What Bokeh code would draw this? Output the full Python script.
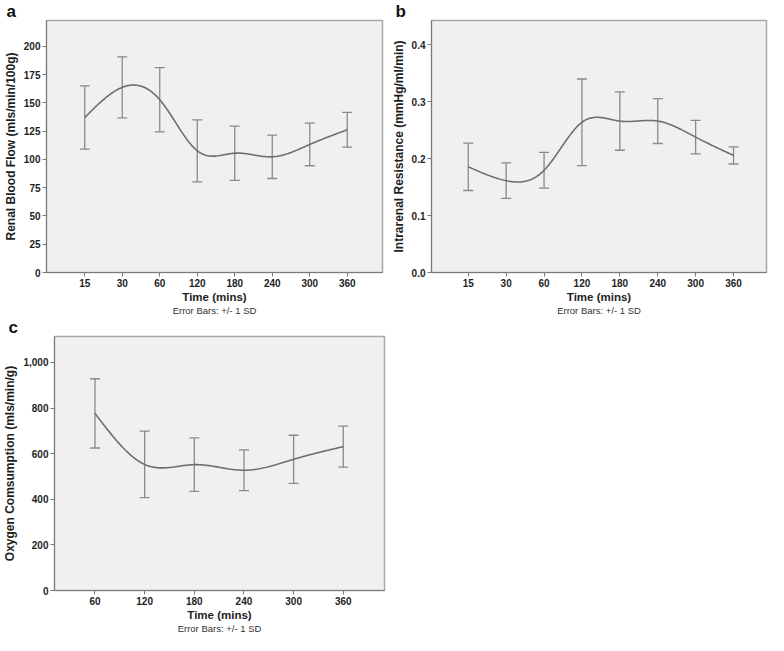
import numpy as np
from bokeh.plotting import figure
from bokeh.models import (ColumnDataSource, Whisker, TeeHead, Range1d, FixedTicker,
                          NumeralTickFormatter, Title)
from bokeh.layouts import column, row
from bokeh.embed import file_html
from bokeh.resources import INLINE

# ---------------- data ----------------
time_ab = ["15", "30", "60", "120", "180", "240", "300", "360"]
rbf_mean = [137.0, 163.7, 152.8, 107.6, 105.5, 102.3, 113.2, 126.2]
rbf_sd = [28.0, 27.0, 28.4, 27.4, 24.0, 19.2, 18.8, 15.4]

res_mean = [0.1856, 0.1613, 0.1795, 0.2638, 0.2659, 0.2659, 0.2377, 0.2056]
res_sd = [0.0416, 0.0313, 0.0315, 0.0760, 0.0512, 0.0394, 0.0294, 0.0151]

time_c = ["60", "120", "180", "240", "300", "360"]
o2_mean = [776.8, 553.0, 552.0, 527.5, 575.5, 631.0]
o2_sd = [151.8, 146.0, 117.0, 89.5, 105.5, 89.5]

ticks_a = [0, 25, 50, 75, 100, 125, 150, 175, 200]
ticks_b = [0.0, 0.1, 0.2, 0.3, 0.4]
ticks_c = [0, 200, 400, 600, 800, 1000]

FONT = "Liberation Sans"
LINE_C = "#6e6e6e"
BAR_C = "#8a8a8a"


def natural_spline(xs, ys, per=40):
    x = np.asarray(xs, float)
    y = np.asarray(ys, float)
    n = len(x)
    h = np.diff(x)
    A = np.zeros((n, n))
    r = np.zeros(n)
    A[0, 0] = 1
    A[-1, -1] = 1
    for i in range(1, n - 1):
        A[i, i - 1] = h[i - 1]
        A[i, i] = 2 * (h[i - 1] + h[i])
        A[i, i + 1] = h[i]
        r[i] = 6 * ((y[i + 1] - y[i]) / h[i] - (y[i] - y[i - 1]) / h[i - 1])
    M = np.linalg.solve(A, r)
    xx, yy = [], []
    for i in range(n - 1):
        t = np.linspace(x[i], x[i + 1], per, endpoint=(i == n - 2))
        a = x[i + 1] - t
        b = t - x[i]
        s = (M[i] * a ** 3 / (6 * h[i]) + M[i + 1] * b ** 3 / (6 * h[i])
             + (y[i] / h[i] - M[i] * h[i] / 6) * a
             + (y[i + 1] / h[i] - M[i + 1] * h[i] / 6) * b)
        xx.extend(t.tolist())
        yy.extend(s.tolist())
    return xx, yy


def make_panel(letter, cats, means, sds, ylab, yend, yticks, yfmt, xr,
               width, height, bl, br, bt, bb, letter_dx):
    idx = list(range(len(cats)))
    p = figure(width=width, height=height,
               x_range=Range1d(*xr), y_range=Range1d(0, yend),
               output_backend="svg", toolbar_location=None,
               min_border_left=bl, min_border_right=br,
               min_border_top=bt, min_border_bottom=bb)
    p.background_fill_color = "#f0f0f0"
    p.border_fill_color = "white"
    p.outline_line_color = "#a8a8a8"
    p.outline_line_width = 1.5
    p.xgrid.visible = False
    p.ygrid.visible = False

    src = ColumnDataSource(dict(
        x=idx,
        lower=[m - s for m, s in zip(means, sds)],
        upper=[m + s for m, s in zip(means, sds)],
    ))
    w = Whisker(source=src, base="x", lower="lower", upper="upper",
                line_color=BAR_C, line_width=1.3,
                upper_head=TeeHead(size=10, line_color=BAR_C, line_width=1.3),
                lower_head=TeeHead(size=10, line_color=BAR_C, line_width=1.3))
    p.add_layout(w)

    xx, yy = natural_spline(idx, means)
    p.line(xx, yy, line_color=LINE_C, line_width=1.6)

    p.xaxis.ticker = FixedTicker(ticks=idx)
    p.xaxis.major_label_overrides = {i: c for i, c in enumerate(cats)}
    p.xaxis.axis_label = "Time (mins)"
    p.yaxis.ticker = FixedTicker(ticks=yticks)
    p.yaxis.formatter = NumeralTickFormatter(format=yfmt)
    p.yaxis.axis_label = ylab

    for ax in p.axis:
        ax.minor_tick_line_color = None
        ax.major_tick_out = 4
        ax.major_tick_in = 0
        ax.axis_line_color = "#7a7a7a"
        ax.major_tick_line_color = "#7a7a7a"
        ax.major_label_text_font = FONT
        ax.major_label_text_font_size = "10px"
        ax.major_label_text_font_style = "bold"
        ax.major_label_text_color = "#1e1e1e"
        ax.major_label_standoff = 2
        ax.axis_label_text_font = FONT
        ax.axis_label_text_font_style = "bold"
        ax.axis_label_text_color = "#1e1e1e"
        ax.axis_label_standoff = 3
    p.xaxis.axis_label_text_font_size = "11.5px"
    p.yaxis.axis_label_text_font_size = "12px"
    p.xaxis.axis_label_standoff = 1

    p.add_layout(Title(text="Error Bars: +/- 1 SD", align="center",
                       vertical_align="top",
                       text_font=FONT, text_font_size="9.5px",
                       text_font_style="normal", text_color="#333333",
                       standoff=-2, offset=0), "below")

    # panel letter: a title above the frame, moved to the left edge
    p.add_layout(Title(text=letter, align="left", vertical_align="bottom",
                       offset=letter_dx, standoff=-1,
                       text_font=FONT, text_font_size="17px",
                       text_font_style="bold", text_color="#111111"), "above")
    return p


pa = make_panel("a", time_ab, rbf_mean, rbf_sd, "Renal Blood Flow (mls/min/100g)",
                222.8, ticks_a, "0", (-1.02, 7.94),
                388, 316, 40, 6, 2, 40, -40)
pb = make_panel("b", time_ab, res_mean, res_sd, "Intrarenal Resistance (mmHg/ml/min)",
                0.4425, ticks_b, "0.0", (-0.97, 7.87),
                380, 316, 40, 2, 2, 40, -36)
pc = make_panel("c", time_c, o2_mean, o2_sd, "Oxygen Comsumption (mls/min/g)",
                1114, ticks_c, "0,0", (-0.815, 5.83),
                388, 318, 46, 4, 2, 40, -46)

layout = column(row(pa, pb), pc)

with open("out.html", "w") as f:
    f.write(file_html(layout, INLINE))
